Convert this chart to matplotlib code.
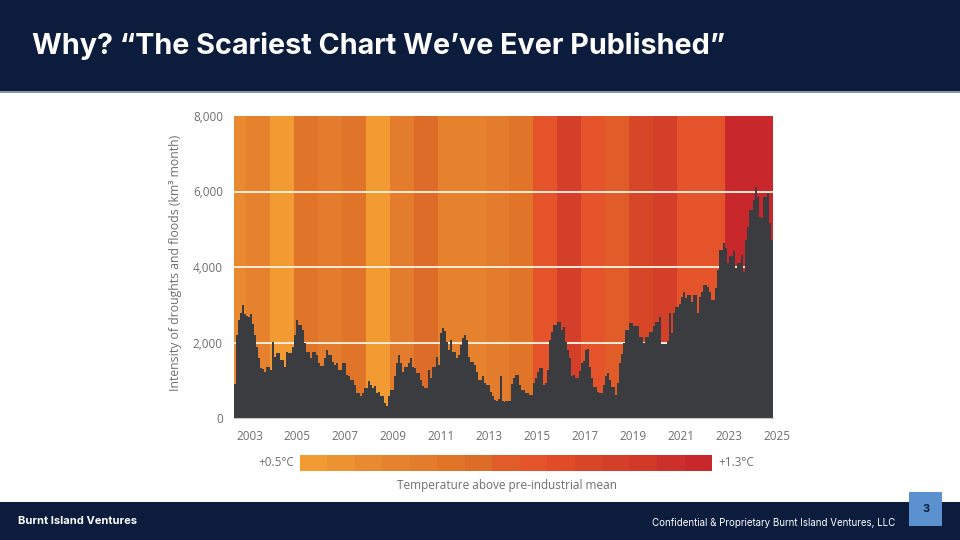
import matplotlib.pyplot as plt
import matplotlib.transforms as mtransforms
import numpy as np
from matplotlib.colors import ListedColormap, BoundaryNorm
from matplotlib.patches import Rectangle
from matplotlib.cm import ScalarMappable

# monthly intensity of droughts and floods (km3 month), from Jul 2002
intensity = [
    900, 2200, 2600, 2780, 3000, 2750, 2700, 2680, 2750, 2500, 2200, 1890,
    1600, 1330, 1300, 1230, 1360, 1360, 1280, 2020, 1620, 1710, 1710, 1540,
    1540, 1360, 1750, 1730, 1730, 1890, 2200, 2600, 2470, 2470, 2340, 1990,
    1750, 1750, 1580, 1750, 1750, 1670, 1450, 1380, 1380, 1580, 1800, 1670,
    1670, 1490, 1400, 1460, 1280, 1280, 1450, 1450, 1140, 1100, 1010, 1010,
    880, 660, 660, 590, 660, 790, 790, 970, 880, 790, 850, 660,
    700, 570, 570, 400, 330, 570, 750, 750, 1100, 1450, 1670, 1450,
    1230, 1360, 1360, 1450, 1580, 1360, 1320, 1190, 1190, 1010, 840, 800,
    800, 1280, 1060, 1360, 1360, 1620, 1400, 2250, 2380, 2300, 2020, 1800,
    2060, 1750, 1750, 1580, 1670, 1940, 2120, 2200, 2060, 1620, 1490, 1490,
    1400, 1230, 1010, 1010, 1100, 920, 880, 880, 700, 570, 480, 450,
    500, 1100, 450, 430, 450, 450, 450, 900, 1060, 1140, 1140, 875,
    740, 740, 660, 660, 620, 620, 925, 1060, 1230, 1320, 1320, 870,
    925, 1270, 2070, 2290, 2460, 2460, 2550, 2550, 2330, 2420, 2020, 1800,
    1590, 1100, 1150, 1060, 1060, 1240, 1460, 1500, 1800, 1820, 1360, 1060,
    830, 830, 700, 660, 660, 880, 1100, 1190, 1010, 830, 830, 620,
    925, 1460, 1700, 1990, 2330, 2330, 2510, 2510, 2430, 2430, 2430, 2150,
    2150, 1990, 2150, 2150, 2280, 2280, 2430, 2550, 2550, 2680, 1950, 1950,
    1950, 2050, 2780, 2240, 2780, 2950, 2950, 3030, 3210, 3350, 3170, 3260,
    3260, 3080, 3260, 3260, 2780, 3210, 3350, 3530, 3530, 3480, 3350, 3120,
    3120, 3440, 3920, 4450, 4450, 4630, 4500, 4100, 4280, 4280, 4420, 3970,
    4100, 4100, 4330, 3880, 4720, 5070, 5510, 5510, 5780, 6110, 5860, 5330,
    5290, 5860, 5860, 5950, 5160, 4720,
]
start_year = 2002.5

years = list(range(2002, 2025))
temp = [0.63, 0.69, 0.53, 0.79, 0.74, 0.79, 0.53, 0.74, 0.85, 0.69, 0.69, 0.74,
        0.80, 0.95, 1.11, 0.95, 0.90, 1.06, 1.11, 0.95, 0.95, 1.27, 1.27]

xticks = list(range(2003, 2026, 2))
yticks = [0, 2000, 4000, 6000, 8000]

palette = ['#f29b33', '#ee9331', '#ea8a30', '#e6822e', '#e37c2d', '#e0752a',
           '#de6c29', '#e05c29', '#e5532a', '#e14b28', '#d84628', '#d43f29',
           '#d03828', '#cc302a', '#c8272b']
cmap = ListedColormap(palette)
norm = BoundaryNorm(np.linspace(0.5, 1.3, 16), cmap.N)

plt.rcParams['font.family'] = ['Open Sans', 'DejaVu Sans']
grey = '#6e6e6e'
navy = '#0b1c3d'
head_font = ['Inter', 'DejaVu Sans']

fig = plt.figure(figsize=(9.6, 5.4), dpi=100)
fig.patch.set_facecolor('white')

# header / footer
fig.add_artist(Rectangle((0, 1 - 91 / 540), 1, 91 / 540, transform=fig.transFigure,
                         facecolor=navy, edgecolor='none'))
fig.add_artist(Rectangle((0, 1 - 92.5 / 540), 1, 1.5 / 540, transform=fig.transFigure,
                         facecolor='#8a93a3', edgecolor='none'))
fig.add_artist(Rectangle((0, 0), 1, 38.5 / 540, transform=fig.transFigure,
                         facecolor=navy, edgecolor='none'))
fig.add_artist(Rectangle((909 / 960, 1 - 526 / 540), 33 / 960, 34 / 540,
                         transform=fig.transFigure, facecolor='#5b91cf', edgecolor='none'))
fig.text(32 / 960, 1 - 46 / 540, 'Why? \u201cThe Scariest Chart We\u2019ve Ever Published\u201d',
         color='white', fontsize=20.7, fontweight='bold', family=head_font,
         va='center', ha='left')
fig.text(18 / 960, 1 - 521 / 540, 'Burnt Island Ventures', color='white', fontsize=8,
         fontweight='bold', family=head_font, va='center')
fig.text(895 / 960, 1 - 523 / 540, 'Confidential & Proprietary Burnt Island Ventures, LLC',
         color='white', fontsize=7.0, ha='right', va='center', family=head_font)
fig.text(926 / 960, 1 - 509 / 540, '3', color=navy, fontsize=8, fontweight='bold',
         ha='center', va='center', family=head_font)

# main chart
ax = fig.add_axes([234 / 960, 1 - 418 / 540, 539 / 960, 302 / 540])
ax.bar(years, 8000, width=1, align='edge', color=cmap(norm(temp)), zorder=0)
for y in yticks[1:-1]:
    ax.axhline(y, color='#fdebd8', lw=1.4, zorder=1)
edges = start_year + np.arange(len(intensity) + 1) / 12
ax.stairs(intensity, edges, fill=True, color='#3b3c40', zorder=2)

ax.set_xlim(start_year, 2025)
ax.set_ylim(0, 8000)
ax.set_xticks(xticks)
ax.set_yticks(yticks)
ax.set_yticklabels([f'{v:,}' for v in yticks])
ax.tick_params(length=0, labelsize=8.5, colors=grey)
ax.tick_params(axis='x', pad=9)
ax.tick_params(axis='y', pad=8)
# labels sit a few pixels right of the year boundary in the original
shift = mtransforms.ScaledTranslation(3.5 / 100, 0, fig.dpi_scale_trans)
for lbl in ax.get_xticklabels():
    lbl.set_transform(lbl.get_transform() + shift)
for s in ['top', 'right', 'left']:
    ax.spines[s].set_visible(False)
ax.spines['bottom'].set_color('#c8c8c8')
ax.spines['bottom'].set_linewidth(0.8)

fig.text(176 / 960, 1 - 263 / 540, 'Intensity of droughts and floods (km\u00b3 month)',
         rotation=90, ha='center', va='center', fontsize=8.8, color=grey)

# colour scale
cax = fig.add_axes([300 / 960, 1 - 471 / 540, 412 / 960, 16 / 540])
cb = fig.colorbar(ScalarMappable(norm=norm, cmap=cmap), cax=cax, orientation='horizontal')
cb.outline.set_visible(False)
cb.set_ticks([])
cax.tick_params(which='both', length=0)
cax.minorticks_off()
fig.text(294 / 960, 1 - 463 / 540, '+0.5\u00b0C', ha='right', va='center', fontsize=8.5, color=grey)
fig.text(718 / 960, 1 - 463 / 540, '+1.3\u00b0C', ha='left', va='center', fontsize=8.5, color=grey)
fig.text(507 / 960, 1 - 485 / 540, 'Temperature above pre-industrial mean', ha='center',
         va='center', fontsize=8.5, color=grey)

plt.savefig('out.png', dpi=100)
